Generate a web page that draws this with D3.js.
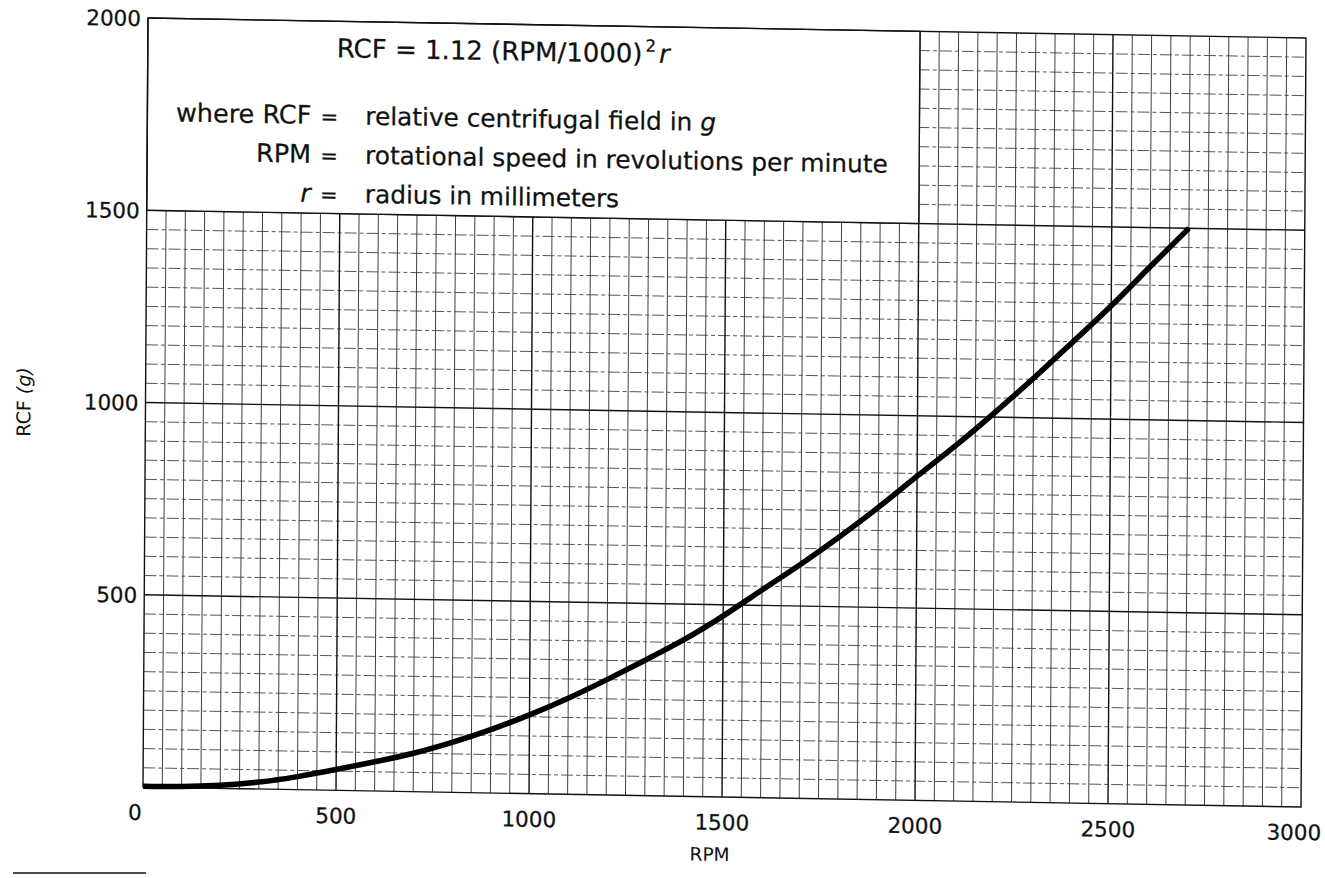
<!DOCTYPE html>
<html>
<head>
<meta charset="utf-8">
<script src="https://cdn.jsdelivr.net/npm/d3@7"></script>
<style>
  html, body { margin: 0; padding: 0; background: #fff; }
  svg { display: block; }
  text { font-family: "DejaVu Sans", Verdana, sans-serif; fill: #111; }
  .heavy { stroke: #111; stroke-width: 0.25; }
</style>
</head>
<body>
<svg id="chart" width="1325" height="878"></svg>
<script>
// ---- data ----
const rpm = [0, 100, 200, 300, 400, 500, 600, 700, 800, 900, 1000, 1100, 1200, 1300,
             1400, 1500, 1600, 1700, 1800, 1900, 2000, 2100, 2200, 2300, 2400, 2500, 2600, 2700];
const rcf = [2, 3, 8, 18, 34, 54, 76, 100, 130, 165, 205, 250, 300, 353,
             408, 471, 540, 609, 682, 760, 843, 925, 1012, 1103, 1198, 1295, 1398, 1500];
const xTicks = [0, 500, 1000, 1500, 2000, 2500, 3000];
const yTicks = [500, 1000, 1500, 2000];
const xTitle = "RPM";
const yTitle = ["RCF ", "(g)"];
const formulaText = ["RCF = 1.12 (RPM/1000)", "2", "r"];
const defTerms = ["where RCF", "RPM", "r"];
const defMeanings = [["relative centrifugal field in ", "g"],
                     ["rotational speed in revolutions per minute", ""],
                     ["radius in millimeters", ""]];

// ---- layout ----
const W = 1158, H = 769;
const svg = d3.select("#chart");
// the scanned page is slightly skewed; reproduce it with a small affine transform
const g = svg.append("g").attr("transform", "matrix(1,0.01727,-0.0065,1,148,18)");

const x = d3.scaleLinear().domain([0, 3000]).range([0, W]);
const y = d3.scaleLinear().domain([0, 2000]).range([H, 0]);

const minorX = d3.range(50, 3000, 50).filter(v => v % 500 !== 0);
const majorX = d3.range(500, 3000, 500);
const minorY = d3.range(50, 2000, 50).filter(v => v % 500 !== 0);
const majorY = d3.range(500, 2000, 500);

// grid
g.append("g").selectAll("line").data(minorX).join("line")
  .attr("x1", d => x(d)).attr("x2", d => x(d)).attr("y1", 0).attr("y2", H)
  .attr("stroke", "#2a2a2a").attr("stroke-width", 0.9);
g.append("g").selectAll("line").data(minorY).join("line")
  .attr("y1", d => y(d)).attr("y2", d => y(d)).attr("x1", 0).attr("x2", W)
  .attr("stroke", "#444").attr("stroke-width", 0.9).attr("stroke-dasharray", "12,3,4,3");
g.append("g").selectAll("line").data(majorX).join("line")
  .attr("x1", d => x(d)).attr("x2", d => x(d)).attr("y1", 0).attr("y2", H)
  .attr("stroke", "#111").attr("stroke-width", 1.4);
g.append("g").selectAll("line").data(majorY).join("line")
  .attr("y1", d => y(d)).attr("y2", d => y(d)).attr("x1", 0).attr("x2", W)
  .attr("stroke", "#111").attr("stroke-width", 1.4);

// white formula box covering the upper-left grid (0..2000 RPM, 1500..2000 g)
g.append("rect")
  .attr("x", x(0)).attr("y", y(2000))
  .attr("width", x(2000) - x(0)).attr("height", y(1500) - y(2000))
  .attr("fill", "#fff").attr("stroke", "#111").attr("stroke-width", 1.4);

// frame
g.append("rect").attr("x", 0).attr("y", 0).attr("width", W).attr("height", H)
  .attr("fill", "none").attr("stroke", "#111").attr("stroke-width", 1.4);

// curve
const line = d3.line().x((d, i) => x(rpm[i])).y((d, i) => y(rcf[i])).curve(d3.curveNatural);
g.append("path").datum(rcf).attr("d", line)
  .attr("fill", "none").attr("stroke", "#000").attr("stroke-width", 5.5)
  .attr("stroke-linecap", "butt").attr("stroke-linejoin", "round");

// x tick labels
g.append("g").selectAll("text").data(xTicks).join("text")
  .attr("class", "heavy")
  .attr("x", d => x(d) + (d === 0 ? -8 : d === 3000 ? -7 : 0))
  .attr("y", H + 33)
  .attr("text-anchor", "middle").attr("font-size", 21.5)
  .text(d => d);

// y tick labels
g.append("g").selectAll("text").data(yTicks).join("text")
  .attr("class", "heavy")
  .attr("x", -7).attr("y", d => y(d) + 8)
  .attr("text-anchor", "end").attr("font-size", 21.5)
  .text(d => d);

// axis titles
g.append("text").attr("x", x(1500) - 12).attr("y", H + 64)
  .attr("text-anchor", "middle").attr("font-size", 18.5).text(xTitle);
const yt = g.append("text").attr("transform", "translate(-115,386) rotate(-90)")
  .attr("text-anchor", "middle").attr("font-size", 19);
yt.append("tspan").text(yTitle[0]);
yt.append("tspan").attr("font-style", "italic").text(yTitle[1]);

// formula
const f = g.append("text").attr("class", "heavy").attr("x", 189).attr("y", 36).attr("font-size", 26);
f.append("tspan").text(formulaText[0]);
f.append("tspan").attr("font-size", 16.5).attr("dy", -11).attr("dx", 3).text(formulaText[1]);
f.append("tspan").attr("font-style", "italic").attr("dy", 11).attr("dx", 3).text(formulaText[2]);

// definitions
defTerms.forEach((t, i) => {
  const yy = 103 + i * 39;
  g.append("text").attr("class", "heavy").attr("x", 164).attr("y", yy).attr("text-anchor", "end")
    .attr("font-size", 25.5).attr("font-style", t === "r" ? "italic" : "normal").text(t);
  g.append("text").attr("class", "heavy").attr("x", 182).attr("y", yy).attr("text-anchor", "middle")
    .attr("font-size", 21).text("=");
  const m = g.append("text").attr("class", "heavy").attr("x", 218).attr("y", yy).attr("font-size", 24.8);
  m.append("tspan").text(defMeanings[i][0]);
  if (defMeanings[i][1]) m.append("tspan").attr("font-style", "italic").text(defMeanings[i][1]);
});

// short footnote rule at the bottom left
svg.append("line").attr("x1", 13).attr("x2", 146).attr("y1", 873).attr("y2", 873)
  .attr("stroke", "#111").attr("stroke-width", 1.6);
</script>
</body>
</html>
